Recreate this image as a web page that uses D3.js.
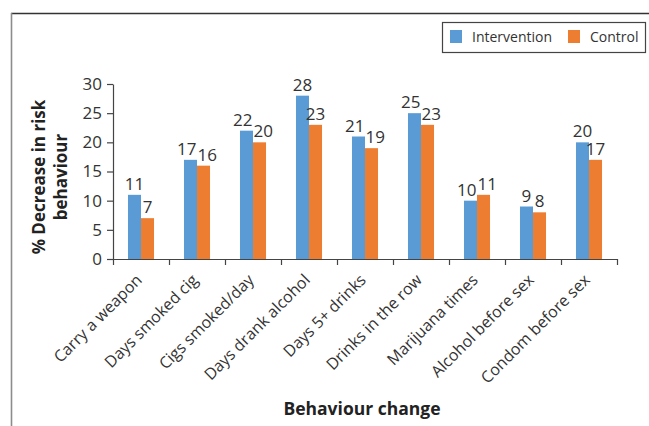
<!DOCTYPE html>
<html>
<head>
<meta charset="utf-8">
<script src="https://cdn.jsdelivr.net/npm/d3@7"></script>
<style>
  html, body { margin: 0; padding: 0; background: #fff; }
  svg { display: block; font-family: "Open Sans", "Noto Sans", sans-serif; }
</style>
</head>
<body>
<svg id="chart" width="649" height="426"></svg>
<script>
// Behaviour categories along the x axis
const categories = [
  "Carry a weapon", "Days smoked cig", "Cigs smoked/day", "Days drank alcohol",
  "Days 5+ drinks", "Drinks in the row", "Marijuana times",
  "Alcohol before sex", "Condom before sex"
];
// % decrease in risk behaviour per group
const intervention = [11, 17, 22, 28, 21, 25, 10, 9, 20];
const control      = [7, 16, 20, 23, 19, 23, 11, 8, 17];
const seriesNames  = ["Intervention", "Control"];
const yTicks       = [0, 5, 10, 15, 20, 25, 30];

const colors = { Intervention: "#5B9BD5", Control: "#ED7D31" };
const textColor = "#333";
const numSize = 17;

const svg = d3.select("#chart");

// outer frame
svg.append("line").attr("x1", 11).attr("x2", 649).attr("y1", 13.5).attr("y2", 13.5)
  .attr("stroke", "#333").attr("stroke-width", 1.4);
svg.append("line").attr("x1", 11.5).attr("x2", 11.5).attr("y1", 13).attr("y2", 426)
  .attr("stroke", "#8c8c8c").attr("stroke-width", 1.6);

const x = d3.scaleBand().domain(categories).range([113, 617]).padding(0);
const xSub = d3.scaleBand().domain(seriesNames).range([0, x.step()]).paddingInner(0).paddingOuter(1.15);
const y = d3.scaleLinear().domain([0, 30]).range([259, 84]);

// y axis
const yAxis = svg.append("g").attr("transform", "translate(113,0)")
  .call(d3.axisLeft(y).tickValues(yTicks).tickSize(6).tickPadding(5).tickSizeOuter(0));
yAxis.selectAll("path, line").attr("stroke", "#444").attr("stroke-width", 1.2);
yAxis.selectAll("text").attr("fill", textColor).style("font-size", numSize + "px")
  .style("font-family", "'Open Sans', sans-serif");

// x axis: tick marks on category boundaries
const xEdge = d3.scaleLinear().domain([0, categories.length]).range(x.range());
const xAxis = svg.append("g").attr("transform", "translate(0,259)")
  .call(d3.axisBottom(xEdge).tickValues(d3.range(categories.length + 1))
    .tickFormat("").tickSize(6).tickSizeOuter(0));
xAxis.selectAll("path, line").attr("stroke", "#444").attr("stroke-width", 1.2);

// rotated category labels
const xLabels = svg.append("g").attr("transform", "translate(0,259)")
  .call(d3.axisBottom(x).tickSize(0).tickPadding(0));
xLabels.select(".domain").remove();
xLabels.selectAll("text")
  .attr("fill", textColor)
  .style("font-size", "16px")
  .style("font-family", "'Open Sans', sans-serif")
  .attr("text-anchor", "end")
  .attr("dy", null)
  .attr("y", 0)
  .attr("transform", "translate(2,22) rotate(-45)");

// bars
const rows = categories.map((c, i) => ({ cat: c, values: [
  { key: "Intervention", value: intervention[i] },
  { key: "Control", value: control[i] }
]}));

const groups = svg.append("g").selectAll("g").data(rows).join("g")
  .attr("transform", d => `translate(${x(d.cat)},0)`);

groups.selectAll("rect").data(d => d.values).join("rect")
  .attr("x", d => xSub(d.key))
  .attr("width", xSub.bandwidth())
  .attr("y", d => y(d.value))
  .attr("height", d => y(0) - y(d.value))
  .attr("fill", d => colors[d.key]);

// value labels above bars, pushed apart sideways when a pair would collide
groups.each(function () {
  const g = d3.select(this);
  const labels = g.selectAll("text").data(d => d.values).join("text")
    .attr("x", d => xSub(d.key) + xSub.bandwidth() / 2)
    .attr("y", d => y(d.value) - 5)
    .attr("text-anchor", "middle")
    .attr("fill", textColor)
    .style("font-size", numSize + "px")
    .text(d => d.value);
  const [a, b] = labels.nodes();
  const da = d3.select(a).datum(), db = d3.select(b).datum();
  const vGap = Math.abs(y(da.value) - y(db.value));
  if (vGap < numSize * 0.75) {
    const wa = a.getComputedTextLength(), wb = b.getComputedTextLength();
    const ca = +a.getAttribute("x"), cb = +b.getAttribute("x");
    const overlap = (ca + wa / 2) - (cb - wb / 2) + 1;
    if (overlap > 0) {
      a.setAttribute("x", ca - overlap / 2);
      b.setAttribute("x", cb + overlap / 2);
    }
  }
});

// axis titles
svg.append("text")
  .attr("x", 362).attr("y", 415)
  .attr("text-anchor", "middle")
  .attr("fill", "#222")
  .style("font-size", "17.5px").style("font-weight", "bold")
  .text("Behaviour change");

const yTitle = svg.append("text")
  .attr("transform", "translate(45,177) rotate(-90)")
  .attr("text-anchor", "middle")
  .attr("fill", "#222")
  .style("font-size", "17px").style("font-weight", "bold");
yTitle.append("tspan").attr("x", 0).attr("y", 0).text("% Decrease in risk");
yTitle.append("tspan").attr("x", 0).attr("y", 21.5).text("behaviour");

// legend
const legend = svg.append("g");
legend.append("rect").attr("x", 442.5).attr("y", 22.5).attr("width", 203).attr("height", 30)
  .attr("fill", "#fff").attr("stroke", "#444").attr("stroke-width", 1.2);
const legendX = [450, 568];
seriesNames.forEach((name, i) => {
  legend.append("rect").attr("x", legendX[i]).attr("y", 30).attr("width", 12).attr("height", 13)
    .attr("fill", colors[name]);
  legend.append("text").attr("x", legendX[i] + 22).attr("y", 41.5)
    .attr("fill", textColor).style("font-size", "14px").text(name);
});
</script>
</body>
</html>
